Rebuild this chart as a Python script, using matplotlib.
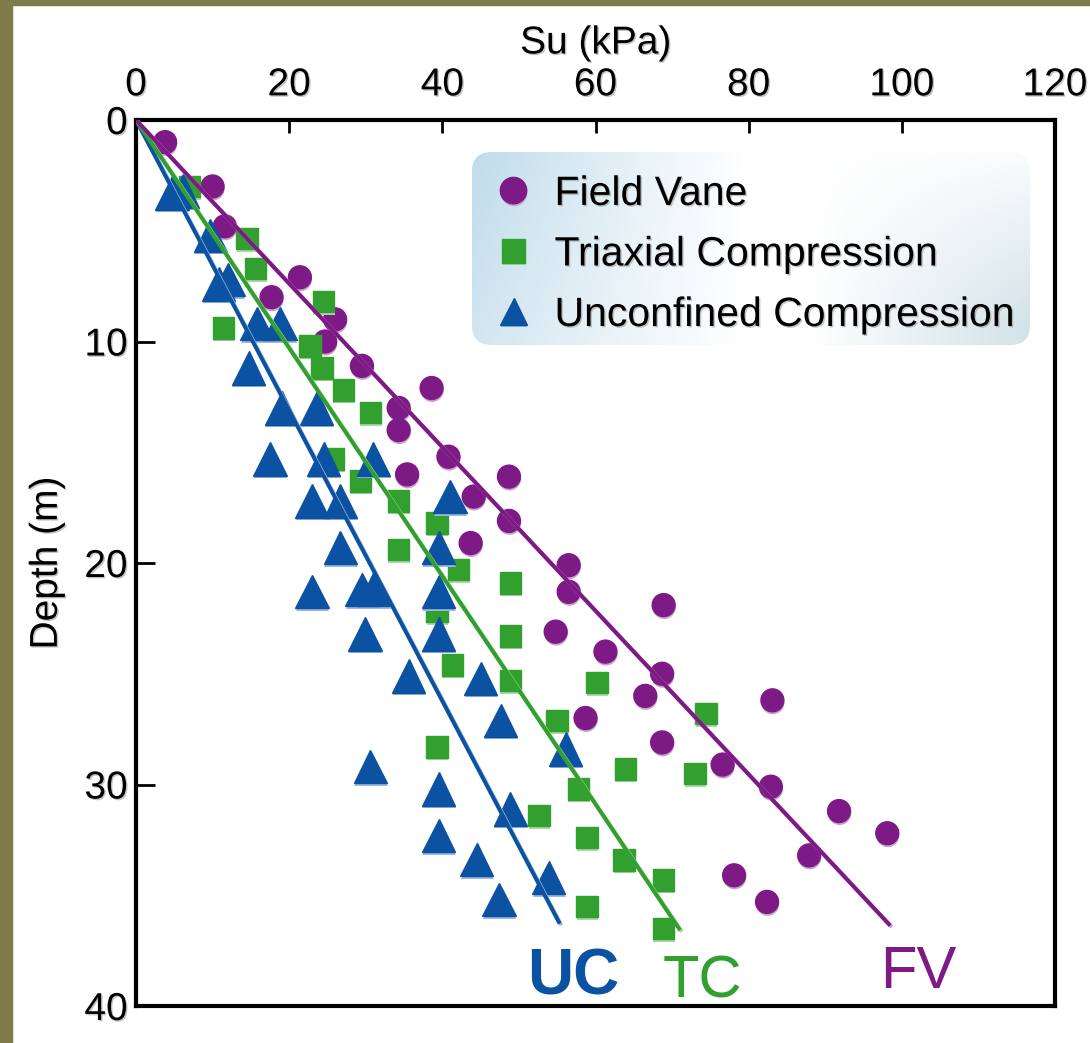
import numpy as np
import matplotlib
matplotlib.use("Agg")
import matplotlib.pyplot as plt
import matplotlib.patheffects as pe
from matplotlib.lines import Line2D
from matplotlib.patches import FancyBboxPatch, Rectangle

plt.rcParams["font.family"] = ["Liberation Sans", "DejaVu Sans"]

# field vane (circles)
fv_su = [3.8, 10.0, 11.6, 21.4, 17.7, 26.0, 24.7, 29.5, 38.6, 34.3, 34.3, 40.8,
         35.4, 48.7, 44.1, 48.7, 43.7, 56.5, 56.5, 68.9, 54.8, 61.3, 68.7, 66.5,
         83.1, 58.7, 68.7, 76.6, 82.9, 91.8, 98.1, 87.9, 78.1, 82.4]
fv_depth = [1.0, 3.0, 4.8, 7.1, 8.0, 9.0, 10.0, 11.1, 12.1, 13.0, 14.0, 15.2,
            16.0, 16.1, 17.0, 18.1, 19.1, 20.1, 21.3, 21.9, 23.1, 24.0, 25.0, 26.0,
            26.2, 27.0, 28.1, 29.1, 30.1, 31.2, 32.2, 33.2, 34.1, 35.3]

# triaxial compression (squares)
tc_su = [7.0, 14.5, 15.6, 24.5, 11.4, 22.7, 24.3, 27.1, 30.6, 25.8, 29.3, 34.3,
         39.3, 34.3, 42.1, 48.9, 39.3, 48.9, 41.3, 48.9, 60.2, 74.4, 55.0, 39.3,
         63.9, 73.0, 57.8, 52.6, 58.9, 63.7, 68.9, 58.9, 68.9]
tc_depth = [3.0, 5.35, 6.7, 8.2, 9.4, 10.2, 11.2, 12.2, 13.2, 15.3, 16.3, 17.2,
            18.2, 19.4, 20.3, 20.9, 22.2, 23.3, 24.6, 25.3, 25.4, 26.8, 27.1, 28.3,
            29.3, 29.5, 30.2, 31.4, 32.4, 33.4, 34.3, 35.5, 36.5]

# unconfined compression (triangles)
uc_su = [4.7, 6.1, 9.7, 10.8, 12.0, 15.8, 18.8, 14.7, 19.0, 23.6, 17.5, 24.5,
         31.0, 23.0, 26.7, 41.0, 26.7, 39.5, 23.0, 29.5, 31.0, 39.5, 29.9, 39.5,
         35.6, 45.0, 47.6, 56.1, 30.6, 39.5, 48.9, 39.5, 44.5, 53.9, 47.4]
uc_depth = [3.3, 3.2, 5.2, 7.4, 7.2, 9.2, 9.2, 11.2, 13.0, 13.0, 15.3, 15.3,
            15.3, 17.2, 17.2, 17.0, 19.3, 19.3, 21.3, 21.2, 21.2, 21.3, 23.2, 23.2,
            25.1, 25.2, 27.1, 28.4, 29.2, 30.2, 31.1, 32.3, 33.4, 34.2, 35.2]

# trend lines
fv_fit_su, fv_fit_depth = [0, 98.3], [0, 36.3]
tc_fit_su, tc_fit_depth = [0, 70.9], [0, 36.5]
uc_fit_su, uc_fit_depth = [0, 55.2], [0, 36.2]

series_labels = ["Field Vane", "Triaxial Compression", "Unconfined Compression"]
x_ticks = [0, 20, 40, 60, 80, 100, 120]
y_ticks = [0, 10, 20, 30, 40]

purple, purple_lt = "#7e1a86", "#c9a3cc"
green, green_lt = "#31a02f", "#a9d9a6"
blue, blue_lt = "#0b52a2", "#9db9dc"

fig = plt.figure(figsize=(10.9, 10.43), dpi=100)
fig.patch.set_facecolor("white")
# olive frame strips of the slide
fig.add_artist(Rectangle((0, 0), 12 / 1090, 1, transform=fig.transFigure,
                         color="#7f7a4a", zorder=0))
fig.add_artist(Rectangle((0, 1 - 5 / 1043), 1, 5 / 1043, transform=fig.transFigure,
                         color="#7f7a4a", zorder=0))

ax = fig.add_axes([136 / 1090, 1 - 1006 / 1043, (1055 - 136) / 1090, (1006 - 120) / 1043])

text_fx = [pe.withSimplePatchShadow(offset=(1, -1), shadow_rgbFace="0.55", alpha=0.5)]


def marker_fx(light):
    return [pe.SimplePatchShadow(offset=(0.4, -1.8), shadow_rgbFace=light, alpha=1.0), pe.Normal()]


def line_fx(light):
    return [pe.SimpleLineShadow(offset=(1.2, -1.2), shadow_color=light, alpha=1.0), pe.Normal()]


ax.plot(fv_su, fv_depth, ls="none", marker="o", ms=16.5, color=purple, mec=purple,
        zorder=3, path_effects=marker_fx(purple_lt))
ax.plot(tc_su, tc_depth, ls="none", marker="s", ms=15.5, color=green, mec=green,
        zorder=4, path_effects=marker_fx(green_lt))
ax.plot(uc_su, uc_depth, ls="none", marker="^", ms=24, color=blue, mec=blue,
        zorder=5, path_effects=marker_fx(blue_lt))

ax.plot(uc_fit_su, uc_fit_depth, color=blue, lw=2.9, zorder=6, path_effects=line_fx(blue_lt))
ax.plot(tc_fit_su, tc_fit_depth, color=green, lw=2.9, zorder=6, path_effects=line_fx(green_lt))
ax.plot(fv_fit_su, fv_fit_depth, color=purple, lw=2.9, zorder=6, path_effects=line_fx(purple_lt))

ax.text(57.1, 39.5, "UC", ha="center", va="baseline", fontsize=46, fontweight="bold",
        color=blue, zorder=7)
ax.text(73.9, 39.6, "TC", ha="center", va="baseline", fontsize=43, color=green, zorder=7)
ax.text(102.1, 39.2, "FV", ha="center", va="baseline", fontsize=43, color=purple, zorder=7)

ax.set_xlim(0, 120)
ax.set_ylim(40, 0)
ax.xaxis.tick_top()
ax.xaxis.set_label_position("top")
ax.set_xticks(x_ticks)
ax.set_yticks(y_ticks)
ax.tick_params(axis="x", direction="in", length=9, width=2, labelsize=28, pad=12)
ax.tick_params(axis="y", direction="in", length=14, width=2, labelsize=28, pad=6)
for lab in ax.get_xticklabels() + ax.get_yticklabels():
    lab.set_path_effects(text_fx)
for sp in ax.spines.values():
    sp.set_linewidth(3)
ax.set_xlabel("Su (kPa)", fontsize=28, labelpad=10, path_effects=text_fx)
ax.set_ylabel("Depth (m)", fontsize=28, labelpad=14, path_effects=text_fx)

# legend box with soft gradient fill
bx0, bx1, by0, by1 = 0.3656, 0.9728, 0.746, 0.9639
box = FancyBboxPatch((bx0, by0), bx1 - bx0, by1 - by0,
                     boxstyle="round,pad=0,rounding_size=0.022",
                     transform=ax.transAxes, facecolor="none", edgecolor="none", zorder=8)
ax.add_patch(box)
u = np.linspace(0, 1, 300)[None, :]
v = np.linspace(0, 1, 120)[:, None]
w_left = np.clip(1 - u / 0.5, 0, 1) ** 1.1 * (1 - 0.3 * v)
w_right = np.clip((u - 0.6) / 0.4, 0, 1) * np.clip(0.1 + v, 0, 1) * 0.8
c_left = np.array([0.75, 0.86, 0.92])
c_right = np.array([0.78, 0.86, 0.89])
grad = np.ones((120, 300, 3))
grad = grad * (1 - w_left - w_right)[..., None] + c_left * w_left[..., None] + c_right * w_right[..., None]
im = ax.imshow(grad, extent=(bx0, bx1, by0, by1), transform=ax.transAxes,
               origin="upper", aspect="auto", zorder=8, interpolation="bilinear")
im.set_clip_path(box)
ax.set_xlim(0, 120)
ax.set_ylim(40, 0)

handles = [
    Line2D([], [], ls="none", marker="o", ms=19, color=purple, path_effects=marker_fx(purple_lt)),
    Line2D([], [], ls="none", marker="s", ms=17, color=green, path_effects=marker_fx(green_lt)),
    Line2D([], [], ls="none", marker="^", ms=19, color=blue, path_effects=marker_fx(blue_lt)),
]
leg = ax.legend(handles, series_labels, loc="upper left", bbox_to_anchor=(0.3885, 0.938),
                frameon=False, fontsize=29.5, handlelength=1.0, handletextpad=0.5,
                labelspacing=0.55, borderpad=0, borderaxespad=0)
leg.set_zorder(9)
for t in leg.get_texts():
    t.set_path_effects(text_fx)

fig.savefig("out.png", dpi=100, facecolor=fig.get_facecolor())
plt.close(fig)
